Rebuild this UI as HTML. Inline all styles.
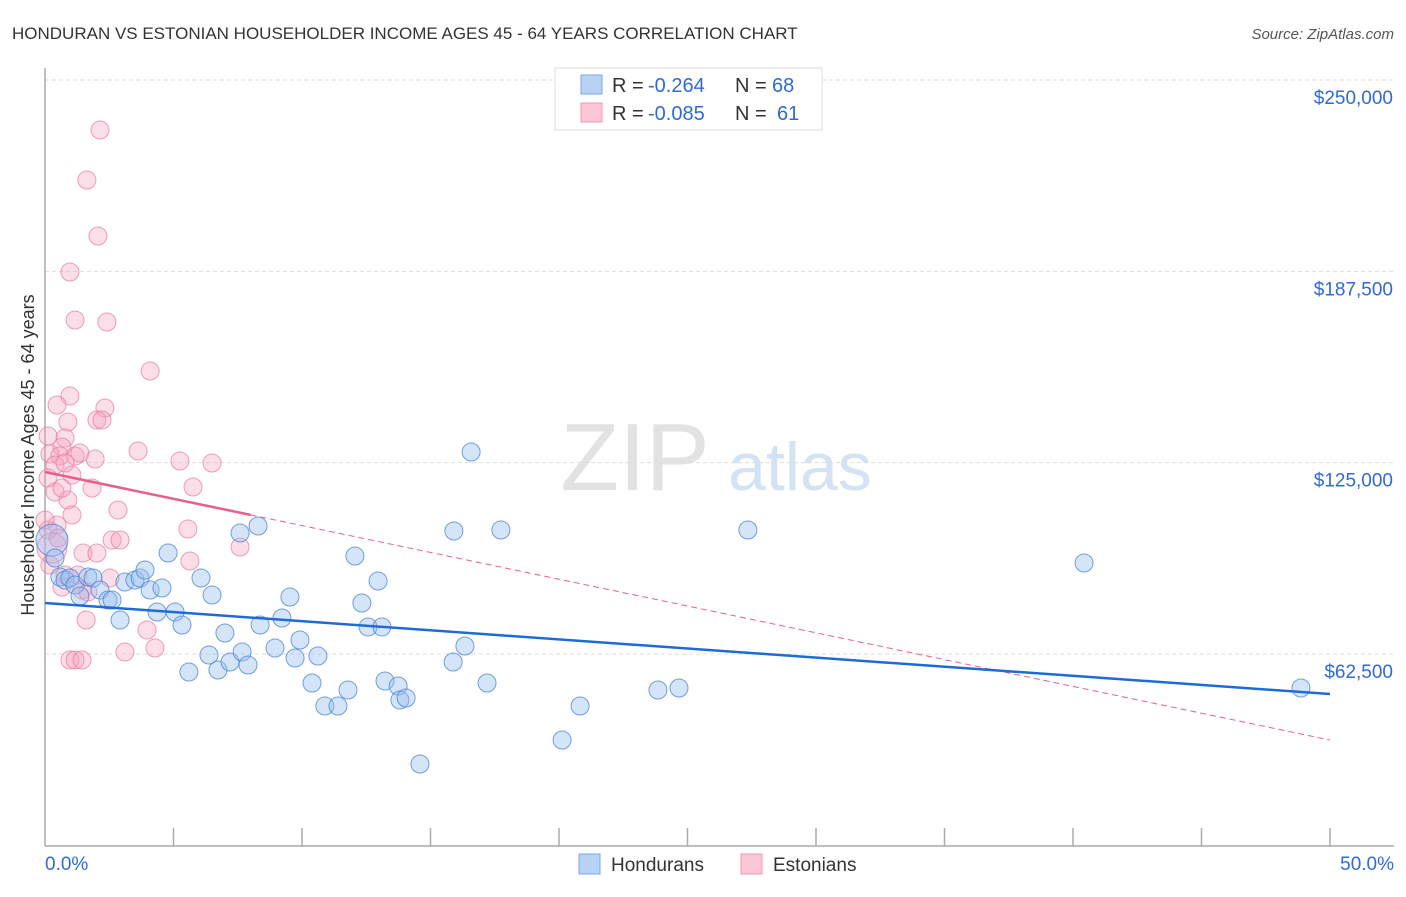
<!DOCTYPE html>
<html><head><meta charset="utf-8"><style>
body{margin:0;background:#fff;font-family:"Liberation Sans",sans-serif;}
svg text{font-family:"Liberation Sans",sans-serif;}
</style></head><body>
<svg id="chart" width="1406" height="892" xmlns="http://www.w3.org/2000/svg">
<text x="12" y="39" font-size="17" fill="#333">HONDURAN VS ESTONIAN HOUSEHOLDER INCOME AGES 45 - 64 YEARS CORRELATION CHART</text>
<text x="1394" y="39" font-size="15" fill="#555" text-anchor="end" font-style="italic">Source: ZipAtlas.com</text>
<g>
<text x="635" y="490" font-size="96" fill="#e2e2e2" text-anchor="middle" font-family="Liberation Serif">ZIP</text>
<text x="800" y="490" font-size="68" fill="#d3e2f5" text-anchor="middle">atlas</text>
</g>
<g id="grid"></g>
<g id="axes"></g>
<g id="pts"></g>
<g id="trends"></g>
<text transform="translate(34,455) rotate(-90)" font-size="18" fill="#333" text-anchor="middle">Householder Income Ages 45 - 64 years</text>
<g>
<rect x="555" y="68" width="267" height="62" fill="#fff" stroke="#ddd"/>
<rect x="581" y="75" width="21" height="19" fill="#b7d2f5" stroke="#7aa7e6"/>
<rect x="581" y="103" width="21" height="19" fill="#fbc6d6" stroke="#ee9ab4"/>
<text x="612" y="92" font-size="20" fill="#333">R =</text>
<text x="648" y="92" font-size="20" fill="#2f6bd1">-0.264</text>
<text x="735" y="92" font-size="20" fill="#333">N =</text>
<text x="772" y="92" font-size="20" fill="#2f6bd1">68</text>
<text x="612" y="120" font-size="20" fill="#333">R =</text>
<text x="648" y="120" font-size="20" fill="#2f6bd1">-0.085</text>
<text x="735" y="120" font-size="20" fill="#333">N =</text>
<text x="777" y="120" font-size="20" fill="#2f6bd1">61</text>
</g>
<g>
<rect x="579" y="854" width="21" height="20" fill="#b7d2f5" stroke="#7aa7e6"/>
<text x="611" y="871" font-size="19" fill="#333">Hondurans</text>
<rect x="741" y="854" width="21" height="20" fill="#fbc6d6" stroke="#ee9ab4"/>
<text x="773" y="871" font-size="19" fill="#333">Estonians</text>
</g>
</svg>
<script>
const yTicks=[62500,125000,187500,250000];
const yTickLabels=["$62,500","$125,000","$187,500","$250,000"];
const xTickLabels=["0.0%","50.0%"];
const blueX=[0.27,0.39,0.58,0.78,0.97,1.17,1.67,1.87,1.36,2.14,2.45,2.61,2.92,3.11,3.5,3.7,3.89,4.09,4.36,4.55,4.79,5.06,5.33,5.6,6.07,6.38,6.5,6.73,7.0,7.2,7.67,7.9,7.59,8.29,8.37,8.95,9.22,9.53,9.73,9.92,10.39,10.62,10.89,11.4,11.79,12.06,12.33,12.57,12.96,13.11,13.23,13.74,13.81,14.05,14.59,15.88,15.91,16.34,16.58,17.2,17.74,20.12,20.82,23.85,24.67,27.35,40.43,48.87];
const blueY=[99700,93860,87650,86670,87320,85040,87650,87320,81440,83400,80140,80140,73600,86020,86670,87320,89940,83400,76220,84060,95490,76220,71970,56620,87320,62170,81770,57270,69360,59880,63150,58900,102020,104310,71970,64460,74260,81120,61190,67070,53020,61840,45510,45510,50740,94510,79160,71320,86340,71320,53680,52040,47470,48120,26570,59880,102680,65110,128480,53020,103000,34400,45510,50740,51390,103000,92220,51390];
const blueR=[16,9,9,9,9,9,9,9,9,9,9,9,9,9,9,9,9,9,9,9,9,9,9,9,9,9,9,9,9,9,9,9,9,9,9,9,9,9,9,9,9,9,9,9,9,9,9,9,9,9,9,9,9,9,9,9,9,9,9,9,9,9,9,9,9,9,9,9];
const pinkX=[2.14,1.63,2.06,0.97,1.17,2.41,4.09,0.97,0.47,2.33,0.89,2.02,2.22,0.12,0.78,0.66,3.62,5.25,6.5,0.19,0.58,1.17,0.39,1.36,0.78,1.95,1.05,0.12,0.39,1.83,0.89,5.76,2.84,1.05,0.47,0.12,2.61,2.92,5.56,1.48,2.02,7.59,5.64,0.19,0.78,1.28,2.53,0.66,1.44,3.97,3.11,4.28,0.97,1.17,1.44,1.6,0.27,0.51,0.66,1.67,0.0];
const pinkY=[233670,217330,199040,187280,171600,170950,154940,146780,143840,142860,138280,138940,138940,133710,133060,130120,128810,125540,124890,127830,127180,127180,124240,128160,124890,126200,120970,119990,115420,116720,112800,117050,109540,107900,104640,103000,99740,99740,103330,95490,95490,97450,92880,91570,88300,88300,87320,84380,83400,70340,63150,64460,60540,60540,60540,73600,97120,100390,116720,82750,106270];
const pinkR=[9,9,9,9,9,9,9,9,9,9,9,9,9,9,9,9,9,9,9,9,9,9,9,9,9,9,9,9,9,9,9,9,9,9,9,9,9,9,9,9,9,9,9,9,9,9,9,9,9,9,9,9,9,9,9,9,15,9,9,9,9];
const blueTrend=[79160,49430];
const pinkTrend=[121950,34400];
const pinkSolidEnd=8.0;

const NS="http://www.w3.org/2000/svg";
const X0=45,X1=1330,YT=80,YB=654;
function sx(p){return X0+(p/50)*(X1-X0);}
function sy(v){return YT+(250000-v)*(YB-YT)/187500;}
function mk(tag,attrs,parent){const e=document.createElementNS(NS,tag);for(const k in attrs)e.setAttribute(k,attrs[k]);parent.appendChild(e);return e;}
const grid=document.getElementById('grid'),axes=document.getElementById('axes'),pts=document.getElementById('pts'),tr=document.getElementById('trends');
yTicks.forEach((v,i)=>{
  const l=mk('line',{x1:X0,x2:1394,y1:sy(v),y2:sy(v),stroke:'#ddd','stroke-dasharray':'4,3'},grid);
  
  
  const t=mk('text',{x:1393,y:sy(v)+24,'font-size':19,fill:'#2f6bd1','text-anchor':'end'},grid);
  t.textContent=yTickLabels[i];
  
  
});
const ya=mk('line',{x1:X0,x2:X0,y1:68,y2:846,stroke:'#aaa','stroke-width':1.5},axes);


const xa=mk('line',{x1:X0,x2:1394,y1:846,y2:846,stroke:'#aaa','stroke-width':1.5},axes);


for(let i=1;i<=10;i++){
  const tk=mk('line',{x1:sx(i*5),x2:sx(i*5),y1:828,y2:846,stroke:'#aaa','stroke-width':1.5},axes);
  
  
}
[[0,'start',45],[1,'end',1394]].forEach(([i,a,x])=>{
  const t=mk('text',{x:x,y:870,'font-size':19,fill:'#2f6bd1','text-anchor':a},axes);
  t.textContent=xTickLabels[i];
  
  
});
pinkX.forEach((x,i)=>{
  const c=mk('circle',{cx:sx(x),cy:sy(pinkY[i]),r:pinkR[i],fill:'rgba(246,160,188,0.35)',stroke:'rgba(232,120,155,0.7)','stroke-width':1},pts);
  
  
});
blueX.forEach((x,i)=>{
  const c=mk('circle',{cx:sx(x),cy:sy(blueY[i]),r:blueR[i],fill:'rgba(150,190,240,0.4)',stroke:'rgba(70,130,215,0.75)','stroke-width':1},pts);
  
  
});
const pAt=p=>pinkTrend[0]+(pinkTrend[1]-pinkTrend[0])*p/50;
const pd=mk('line',{x1:sx(pinkSolidEnd),y1:sy(pAt(pinkSolidEnd)),x2:sx(50),y2:sy(pinkTrend[1]),stroke:'#e8608a','stroke-width':1,'stroke-dasharray':'6,4'},tr);


const ps=mk('line',{x1:sx(0),y1:sy(pinkTrend[0]),x2:sx(pinkSolidEnd),y2:sy(pAt(pinkSolidEnd)),stroke:'#e8608a','stroke-width':2.5},tr);


const bl=mk('line',{x1:sx(0),y1:sy(blueTrend[0]),x2:sx(50),y2:sy(blueTrend[1]),stroke:'#1f6bd6','stroke-width':2.5},tr);


</script>
</body></html>
